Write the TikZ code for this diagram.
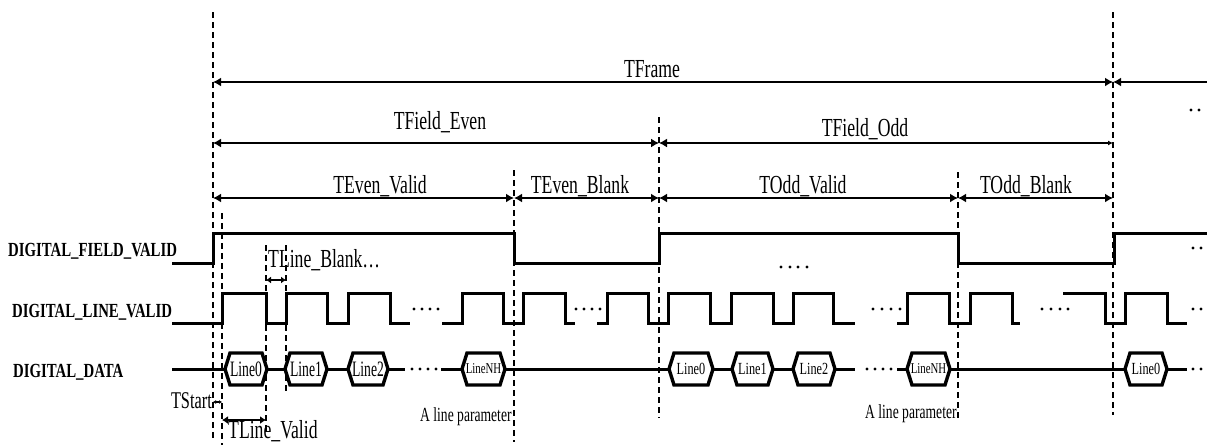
\documentclass[tikz,border=0pt]{standalone}
\usepackage{fontspec}
\setmainfont{Liberation Serif}
\newfontfamily\lblfont[FakeStretch=0.68]{Liberation Serif}
\newfontfamily\sigfont[FakeStretch=0.74]{Liberation Serif}
\newfontfamily\hexAfont[FakeStretch=0.62]{Liberation Serif}
\newfontfamily\hexBfont[FakeStretch=0.72]{Liberation Serif}
\usetikzlibrary{arrows.meta}
\newcommand\hexbox[5]{%
  \draw[hexst] (#1,369) -- (#1+5,353) -- (#2-5,353) -- (#2,369) -- (#2-5,385) -- (#1+5,385) -- cycle;
  \node[font=#4, inner sep=0pt] (#3) at ({(#1+#2)/2},369) {#5};}
\begin{document}
\begin{tikzpicture}[x=1pt,y=-1pt,
  sigline/.style={line width=3pt, line join=miter},
  guide/.style={line width=1.1pt, dash pattern=on 6pt off 4pt},
  hexst/.style={line width=3.4pt, fill=white, line join=miter},
  tipb/.tip={Latex[length=8pt,width=9pt]},
  dimthick/.style={line width=2pt},
  dimthin/.style={line width=1.4pt},
  lbl/.style={font=\lblfont\fontsize{26}{26}\selectfont, inner sep=0pt},
  sig/.style={font=\sigfont\bfseries\fontsize{20}{20}\selectfont, inner sep=0pt},
  small/.style={font=\lblfont\fontsize{20}{20}\selectfont, inner sep=0pt},
  dot/.style={fill=black}
]
\useasboundingbox (0,0) rectangle (1207,445);

% ---- guide lines (dashed)
\coordinate (g1t) at (213,12);  \coordinate (g1b) at (213,440);
\coordinate (g2t) at (222,213); \coordinate (g2b) at (222,445);
\coordinate (g3t) at (266,245); \coordinate (g3b) at (266,432);
\coordinate (g4t) at (286,245); \coordinate (g4b) at (286,393);
\coordinate (g5t) at (514,170); \coordinate (g5b) at (514,442);
\coordinate (g6t) at (659,117); \coordinate (g6b) at (659,418);
\coordinate (g7t) at (958,172); \coordinate (g7b) at (958,420);
\coordinate (g8t) at (1113,12); \coordinate (g8b) at (1113,415);
\foreach \i in {1,...,8} \draw[guide] (g\i t) -- (g\i b);

% ---- dimension arrows
\coordinate (fa) at (213,82); \coordinate (fb) at (1113,82); \coordinate (fc) at (1207,82);
\draw[dimthick, tipb-tipb] (fa) -- (fb);
\draw[dimthick, tipb-] (fb) -- (fc);
\node[lbl, anchor=base] (tframe) at (652,77) {TFrame};

\coordinate (ea) at (213,143); \coordinate (eb) at (659,143); \coordinate (ec) at (1113,143);
\draw[dimthin, tipb-tipb] (ea) -- (eb);
\draw[dimthin, tipb-{Latex[length=5pt,width=5pt]}] (eb) -- (ec);
\node[lbl, anchor=base] (tfe) at (440,129) {TField\_Even};
\node[lbl, anchor=base] (tfo) at (865,136) {TField\_Odd};

\coordinate (va) at (213,198); \coordinate (vb) at (514,198); \coordinate (vc) at (659,198);
\coordinate (vd) at (958,198); \coordinate (ve) at (1113,198);
\draw[dimthick, tipb-tipb] (va) -- (vb);
\draw[dimthick, tipb-tipb] (vb) -- (vc);
\draw[dimthick, tipb-tipb] (vc) -- (vd);
\draw[dimthick, tipb-tipb] (vd) -- (ve);
\node[lbl, anchor=base] (tev) at (380,193) {TEven\_Valid};
\node[lbl, anchor=base] (teb) at (580,193) {TEven\_Blank};
\node[lbl, anchor=base] (tov) at (803,193) {TOdd\_Valid};
\node[lbl, anchor=base] (tob) at (1026,193) {TOdd\_Blank};

% ---- signal names
\node[sig, anchor=base west] (sfv) at (8,256) {DIGITAL\_FIELD\_VALID};
\node[sig, anchor=base west] (slv) at (12,317) {DIGITAL\_LINE\_VALID};
\node[sig, anchor=base west] (sdd) at (13,377) {DIGITAL\_DATA};

% ---- DIGITAL_FIELD_VALID
\draw[sigline] (172,263) -- (213,263) -- (213,233) -- (514,233) -- (514,263) -- (659,263) -- (659,233)
  -- (958,233) -- (958,263) -- (1114,263) -- (1114,233) -- (1207,233);

% ---- DIGITAL_LINE_VALID
\draw[sigline] (172,323) -- (222,323) -- (222,293) -- (266,293) -- (266,323) -- (286,323) -- (286,293)
  -- (327,293) -- (327,323) -- (348,323) -- (348,293) -- (390,293) -- (390,323) -- (410,323);
\draw[sigline] (442,323) -- (462,323) -- (462,293) -- (503,293) -- (503,323) -- (523,323) -- (523,293)
  -- (565,293) -- (565,323) -- (575,323);
\draw[sigline] (597,323) -- (607,323) -- (607,293) -- (648,293) -- (648,323) -- (668,323) -- (668,293)
  -- (710,293) -- (710,323) -- (731,323) -- (731,293) -- (773,293) -- (773,323) -- (793,323) -- (793,293)
  -- (833,293) -- (833,323) -- (855,323);
\draw[sigline] (897,323) -- (907,323) -- (907,293) -- (949,293) -- (949,323) -- (970,323) -- (970,293)
  -- (1012,293) -- (1012,323) -- (1020,323);
\draw[sigline] (1063,293) -- (1105,293) -- (1105,323) -- (1125,323) -- (1125,293) -- (1167,293)
  -- (1167,323) -- (1187,323);

% ---- DIGITAL_DATA
\draw[sigline] (172,369) -- (405,369);
\draw[sigline] (441,369) -- (855,369);
\draw[sigline] (897,369) -- (1187,369);
\hexbox{225}{267}{d0}{\hexAfont\fontsize{22}{22}\selectfont}{Line0}
\hexbox{285}{327}{d1}{\hexAfont\fontsize{22}{22}\selectfont}{Line1}
\hexbox{348}{388}{d2}{\hexAfont\fontsize{22}{22}\selectfont}{Line2}
\hexbox{462}{505}{dn}{\hexBfont\fontsize{15}{15}\selectfont}{LineNH}
\hexbox{669}{713}{e0}{\hexBfont\fontsize{17}{17}\selectfont}{Line0}
\hexbox{732}{773}{e1}{\hexBfont\fontsize{17}{17}\selectfont}{Line1}
\hexbox{793}{835}{e2}{\hexBfont\fontsize{17}{17}\selectfont}{Line2}
\hexbox{907}{950}{en}{\hexBfont\fontsize{15}{15}\selectfont}{LineNH}
\hexbox{1125}{1167}{f0}{\hexBfont\fontsize{17}{17}\selectfont}{Line0}

% ---- dots
\foreach \x in {412,420,428,436,867,875,883,891,1193,1201} \fill[dot] (\x,369) circle (1.6);
\foreach \x in {414,422,430,438,576,584,592,600,873,882,891,900,1042,1051,1060,1068,1193,1201} \fill[dot] (\x,309) circle (1.6);
\foreach \x in {781,790,798,807} \fill[dot] (\x,267) circle (1.6);
\foreach \x in {1193,1201} \fill[dot] (\x,248) circle (1.6);
\foreach \x in {1191,1199} \fill[dot] (\x,110) circle (1.6);

% ---- small timing annotations
\coordinate (sa) at (213,402); \coordinate (sb) at (222,402);
\draw[line width=1.2pt, {Latex[length=3pt,width=4pt]}-{Latex[length=3pt,width=4pt]}] (sa) -- (sb);
\node[lbl, anchor=base east, font=\lblfont\fontsize{24}{24}\selectfont] (tstart) at (212,408) {TStart};

\coordinate (la) at (222,420); \coordinate (lb) at (266,420);
\draw[line width=1.8pt, {Latex[length=6pt,width=8pt]}-{Latex[length=6pt,width=8pt]}] (la) -- (lb);
\node[lbl, anchor=base west] (tlv) at (228,438) {TLine\_Valid};

\coordinate (ba) at (266,280); \coordinate (bb) at (286,280);
\draw[line width=1.8pt, {Latex[length=5pt,width=7pt]}-{Latex[length=5pt,width=7pt]}] (ba) -- (bb);
\node[lbl, anchor=base west] (tlb) at (268,267) {TLine\_Blank…};

\node[small, anchor=base west] (alp1) at (420,421) {A line parameter};
\node[small, anchor=base west] (alp2) at (865,418) {A line parameter};
\end{tikzpicture}
\end{document}
